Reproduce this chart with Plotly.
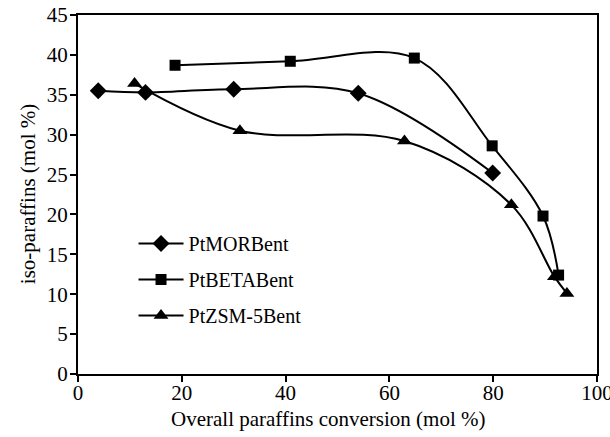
import plotly.graph_objects as go

mor_x = [3.9, 13.0, 30.0, 54.0, 79.9]
mor_y = [35.5, 35.3, 35.7, 35.2, 25.2]

beta_x = [18.7, 40.9, 64.8, 79.8, 89.6, 92.6]
beta_y = [38.7, 39.2, 39.6, 28.6, 19.8, 12.4]

zsm_x = [10.9, 31.2, 62.9, 83.5, 91.8, 94.2]
zsm_y = [36.4, 30.5, 29.2, 21.2, 12.2, 10.1]

x_ticks = [0, 20, 40, 60, 80, 100]
y_ticks = [0, 5, 10, 15, 20, 25, 30, 35, 40, 45]

x_title = "Overall paraffins conversion (mol %)"
y_title = "iso-paraffins (mol %)"

FONT = "Liberation Serif"

fig = go.Figure()
series = [
    ("PtMORBent", mor_x, mor_y, "diamond", 13),
    ("PtBETABent", beta_x, beta_y, "square", 11),
    ("PtZSM-5Bent", zsm_x, zsm_y, "triangle-up", 13),
]
for name, xs, ys, sym, sz in series:
    fig.add_trace(go.Scatter(
        x=xs, y=ys, name=name, mode="lines+markers",
        line=dict(color="black", width=2, shape="spline", smoothing=1.0),
        marker=dict(symbol=sym, size=sz, color="black"),
        legendgroup=name,
    ))

axis_common = dict(
    showgrid=False, zeroline=False, showline=True, mirror=True,
    linecolor="black", linewidth=2, ticks="outside", ticklen=6,
    tickwidth=2, tickcolor="black", automargin=False,
    ticklabeloverflow="allow",
    tickfont=dict(family=FONT, size=21, color="black"),
)

fig.update_layout(
    width=610, height=437,
    margin=dict(l=78, r=13, t=15, b=63),
    paper_bgcolor="white", plot_bgcolor="white",
    font=dict(family=FONT, size=21, color="black"),
    xaxis=dict(range=[0, 100], tickvals=x_ticks, ticklabelstandoff=-7,
               **axis_common),
    yaxis=dict(range=[0, 45], tickvals=y_ticks, ticklabelstandoff=-2,
               **axis_common),
    legend=dict(x=0.107, y=0.418, xanchor="left", yanchor="top",
                bgcolor="rgba(0,0,0,0)", font=dict(family=FONT, size=20),
                traceorder="grouped", tracegroupgap=7, itemwidth=45),
    showlegend=True,
    annotations=[
        dict(text=x_title, xref="paper", yref="paper", x=0.482, y=-0.125,
             xanchor="center", yanchor="middle", showarrow=False,
             font=dict(family=FONT, size=21, color="black")),
        dict(text=y_title, xref="paper", yref="paper", x=-0.097, y=0.5,
             xanchor="center", yanchor="middle", showarrow=False, textangle=-90,
             font=dict(family=FONT, size=21, color="black")),
    ],
)

fig.write_html("out.html", config={"displayModeBar": False},
               post_script="document.body.style.margin='0';document.body.style.overflow='hidden';")
